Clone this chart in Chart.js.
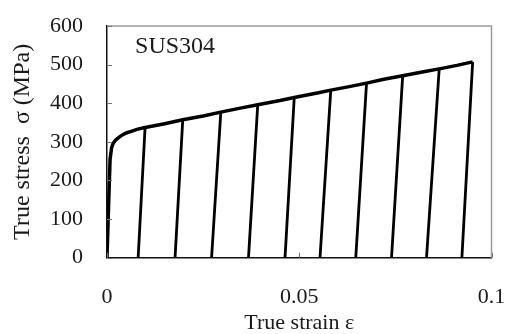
<!DOCTYPE html>
<html><head><meta charset="utf-8">
<script src="https://cdn.jsdelivr.net/npm/chart.js@4.4.1/dist/chart.umd.min.js"></script>
<style>html,body{margin:0;padding:0;background:#fff;}#wrap{width:505px;height:334px;}</style>
</head><body><div id="wrap"><canvas id="c" width="505" height="334"></canvas></div>
<script>
// Loading envelope (true strain, true stress MPa)
const envelopeStrain = [0,0.0004,0.0008,0.0012,0.0016,0.0022,0.003,0.004,0.005,0.0065,0.008,0.0099,0.015,0.0197,0.025,0.0296,0.035,0.0392,0.045,0.0487,0.055,0.0582,0.063,0.0675,0.072,0.0769,0.082,0.0864,0.091,0.0951];
const envelopeStress = [0,130,255,285,296,304,311,318,323,328,333,337,347,357,367,377,388,396,407,415,427,434,443,452,462,471,481,489,498,507];
// Unloading lines: start on envelope, end at zero stress
const unloadTopStrain  = [0.0099,0.0197,0.0296,0.0392,0.0487,0.0582,0.0675,0.0769,0.0864,0.0951];
const unloadTopStress  = [337,357,377,396,415,434,452,471,489,507];
const unloadZeroStrain = [0.0081,0.0177,0.0272,0.0368,0.0463,0.0554,0.0647,0.0740,0.0831,0.0923];
const xTickValues = [0,0.05,0.1];
const xTickLabels = ['0','0.05','0.1'];
const yTickValues = [0,100,200,300,400,500,600];
const specimenLabel = 'SUS304';
const xTitle = 'True strain ε';
const yTitle = 'True stress  σ (MPa)';

const envelopeData = envelopeStrain.map((x,i)=>({x, y: envelopeStress[i]}));
const unloadData = [];
unloadTopStrain.forEach((x,i)=>{
  unloadData.push({x, y: unloadTopStress[i]});
  unloadData.push({x: unloadZeroStrain[i], y: 0});
  unloadData.push({x: unloadZeroStrain[i], y: null});
});

const SERIF = '"Liberation Serif","Times New Roman",serif';
const frame = {
  id:'frame',
  afterDatasetsDraw(chart){
    const {ctx, chartArea:a, scales:{x,y}} = chart;
    ctx.save();
    ctx.strokeStyle = '#9a9a9a'; ctx.lineWidth = 1.5;
    ctx.beginPath();
    ctx.moveTo(a.left, a.top); ctx.lineTo(a.right, a.top); ctx.lineTo(a.right, a.bottom);
    ctx.stroke();
    ctx.strokeStyle = '#777'; ctx.lineWidth = 1;
    yTickValues.forEach(v=>{
      const p = Math.round(y.getPixelForValue(v))+0.5;
      ctx.beginPath(); ctx.moveTo(a.left, p); ctx.lineTo(a.left+5, p); ctx.stroke();
    });
    xTickValues.forEach(v=>{
      const p = Math.round(x.getPixelForValue(v))+0.5;
      ctx.beginPath(); ctx.moveTo(p, a.bottom); ctx.lineTo(p, a.bottom-5); ctx.stroke();
    });
    ctx.fillStyle = '#1a1a1a';
    ctx.font = '24px ' + SERIF;
    ctx.textAlign = 'left'; ctx.textBaseline = 'middle';
    ctx.fillText(specimenLabel, x.getPixelForValue(0.0073), y.getPixelForValue(546));
    ctx.restore();
  }
};
function noPad(s){ s.paddingLeft = 0; s.paddingRight = 0; s.paddingTop = 0; s.paddingBottom = 0; }

new Chart(document.getElementById('c'), {
  type:'line',
  data:{datasets:[
    {data: envelopeData, borderColor:'#000', borderWidth:3.5, pointRadius:0, tension:0, fill:false},
    {data: unloadData, borderColor:'#000', borderWidth:2.8, pointRadius:0, tension:0, fill:false, spanGaps:false}
  ]},
  options:{
    responsive:false, animation:false, devicePixelRatio:1,
    layout:{padding:{left:0, right:13.5, top:26, bottom:0}},
    plugins:{legend:{display:false}, tooltip:{enabled:false}},
    scales:{
      x:{type:'linear', min:0, max:0.1,
        afterBuildTicks(s){ s.ticks = xTickValues.map(v=>({value:v})); },
        afterFit(s){ s.height = 76.3; noPad(s); },
        grid:{display:false, drawTicks:false},
        border:{display:true, color:'#111', width:1.5},
        ticks:{padding:26, color:'#1a1a1a', font:{family:SERIF, size:22},
          callback(v){ const i = xTickValues.indexOf(v); return i>=0 ? xTickLabels[i] : ''; }},
        title:{display:true, text:xTitle, color:'#1a1a1a', font:{family:SERIF, size:22, lineHeight:1}, padding:{top:0,bottom:0}}
      },
      y:{type:'linear', min:0, max:600,
        afterBuildTicks(s){ s.ticks = yTickValues.map(v=>({value:v})); },
        afterFit(s){ s.width = 107; noPad(s); },
        grid:{display:false, drawTicks:false},
        border:{display:true, color:'#111', width:1.5},
        ticks:{padding:24, color:'#1a1a1a', font:{family:SERIF, size:22}},
        title:{display:true, text:yTitle, color:'#1a1a1a', font:{family:SERIF, size:24}, padding:{top:8,bottom:0}}
      }
    }
  },
  plugins:[frame]
});
</script></body></html>
